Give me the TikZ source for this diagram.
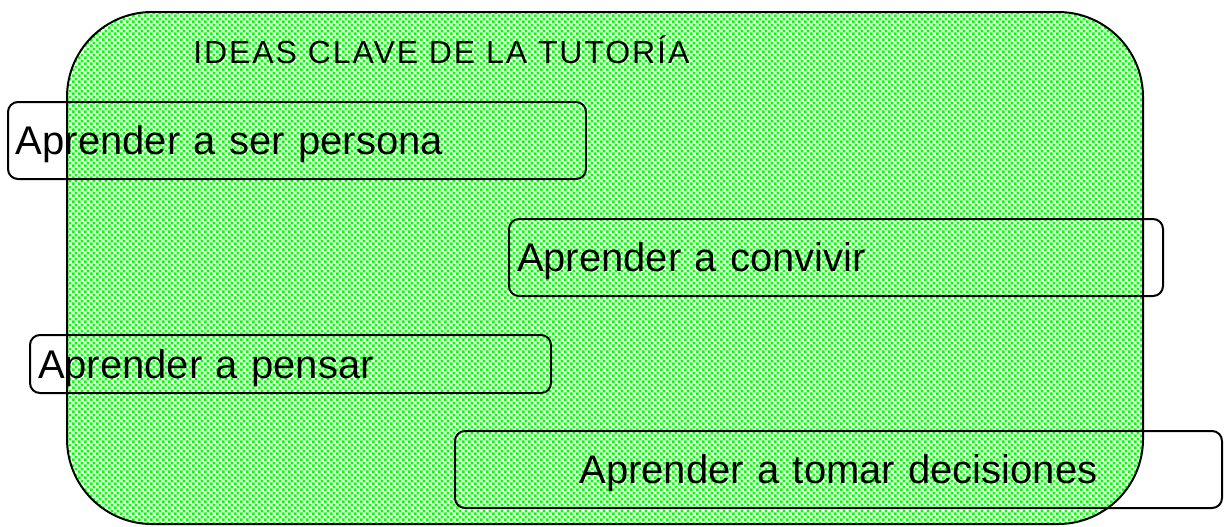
\documentclass[tikz,border=0pt]{standalone}
\usepackage{fontspec}
\setmainfont{Liberation Sans}
\usetikzlibrary{patterns.meta}

% fondo a cuadritos
\tikzdeclarepattern{
	name=damero,
	type=uncolored,
	bottom left={(0pt,0pt)},
	top right={(3pt,3pt)},
	tile size={(3pt,3pt)},
	code={
		\fill (0pt,0pt) rectangle (1.5pt,1.5pt);
		\fill (1.5pt,1.5pt) rectangle (3pt,3pt);
	}
}

\begin{document}
\begin{tikzpicture}[x=0.5pt,y=-0.5pt,
	caja/.style={draw,rounded corners=5pt,line width=1pt,inner xsep=4pt,
		text height=14.3pt,text depth=0pt,font=\fontsize{20pt}{24pt}\selectfont}]
	\useasboundingbox (0,0) rectangle (1224,526);
	\node[draw,line width=1pt,rounded corners=42.5pt,preaction={fill=white},
		pattern=damero,pattern color=green,
		minimum width=538pt,minimum height=256pt,inner sep=0pt] (marco) at (605,268) {};
	\node[anchor=base west,inner sep=0pt,
		font=\fontsize{16pt}{19pt}\selectfont\addfontfeature{LetterSpace=6}] (titulo) at (193,63)
		{IDEAS CLAVE DE LA TUTORÍA};
	\foreach \n/\p/\w/\h/\a/\t in {
			persona/{297,140.5}/281pt/38.5pt/left/Aprender a ser persona,
			convivir/{836,257.5}/319pt/38.5pt/left/Aprender a convivir,
			pensar/{290.5,364}/252.5pt/29pt/left/Aprender a pensar,
			decisiones/{838.5,469.5}/375.5pt/38.5pt/center/Aprender a tomar decisiones}
		{
		\node[caja,text width=\w,minimum height=\h,align=\a] (\n) at (\p) {\t};
	};
\end{tikzpicture}
\end{document}
